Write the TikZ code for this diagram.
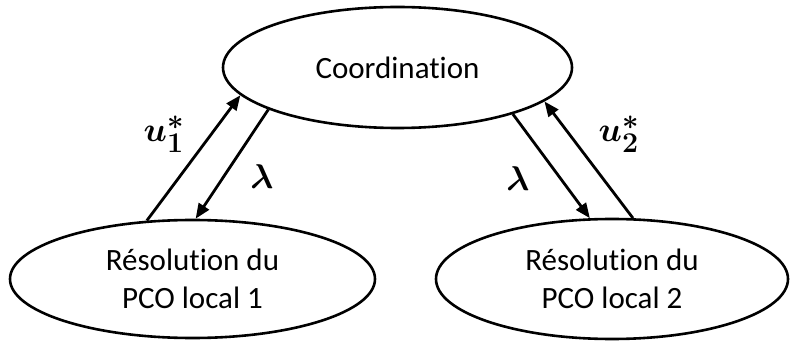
\documentclass[tikz,border=0pt]{standalone}
\usepackage{graphicx}
\usepackage{fontspec}
\setmainfont{Carlito}[Ligatures=NoCommon]
\usetikzlibrary{shapes.geometric,arrows.meta}
\newcommand{\biglab}[1]{\scalebox{1.38}{#1}}
\begin{document}
\begin{tikzpicture}[x=1pt,y=1pt,
  blob/.style={ellipse,draw,line width=2.6pt,inner sep=0pt,align=center,
    font=\fontsize{31}{38}\selectfont},
  link/.style={line width=2.8pt,-{Triangle[length=15pt,width=12pt]}},
  lab/.style={inner sep=0pt,font=\fontsize{24.88}{30}\selectfont\boldmath}]
\useasboundingbox (0,0) rectangle (790,343);
\node[blob,minimum width=349pt,minimum height=121pt] (coord) at (397.5,275.5) {Coordination};
\node[blob,minimum width=365pt,minimum height=118pt] (left) at (192.5,64) {Résolution du\\PCO local 1};
\node[blob,minimum width=352pt,minimum height=120pt] (right) at (612,64) {Résolution du\\PCO local 2};
\draw[link] (left.128.5) -- (coord.190.3);
\draw[link] (coord.198.8) -- (left.87.6);
\draw[link] (coord.338.5) -- (right.110.3);
\draw[link] (right.71.4) -- (coord.347.1);
\node[lab] (u1) at (164,209) {\biglab{$u^{*}_{1}$}};
\node[lab] (l1) at (262,166) {\biglab{$\lambda$}};
\node[lab] (l2) at (518,164) {\biglab{$\lambda$}};
\node[lab] (u2) at (619,209) {\biglab{$u^{*}_{2}$}};
\end{tikzpicture}
\end{document}
